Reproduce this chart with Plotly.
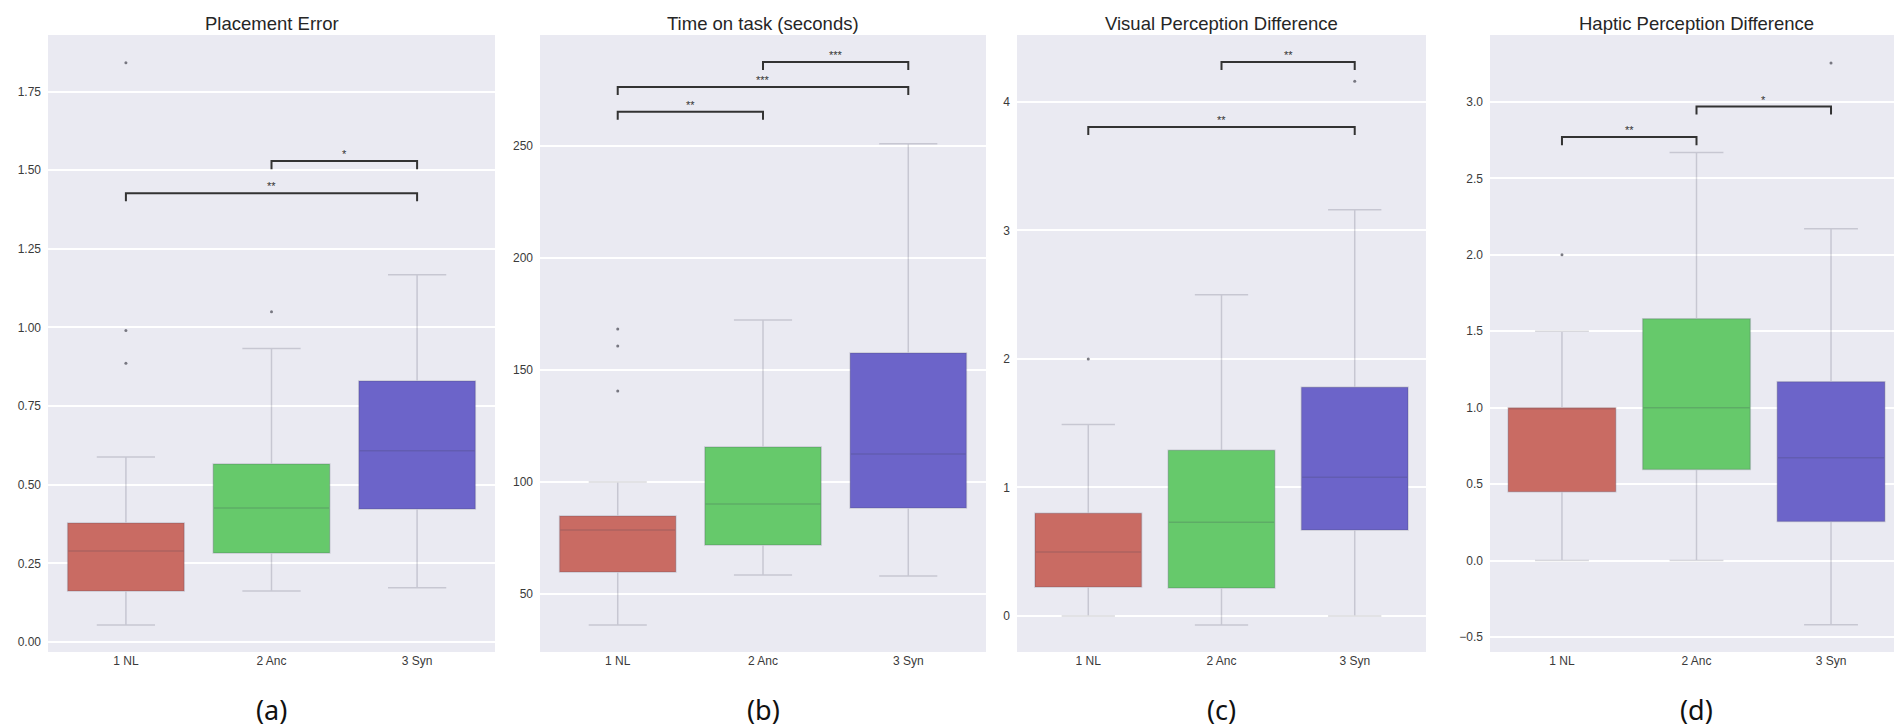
import plotly.graph_objects as go

# Gruppen / Farben
categories = ["1 NL", "2 Anc", "3 Syn"]
box_colors = ["rgb(201,107,99)", "rgb(102,201,107)", "rgb(108,100,201)"]

titles = ["Placement Error", "Time on task (seconds)",
          "Visual Perception Difference", "Haptic Perception Difference"]
panel_labels = ["(a)", "(b)", "(c)", "(d)"]

# Placement Error
placement_q1 = [0.162, 0.283, 0.423]
placement_med = [0.289, 0.426, 0.608]
placement_q3 = [0.378, 0.566, 0.830]
placement_lo = [0.054, 0.162, 0.172]
placement_hi = [0.588, 0.933, 1.168]
placement_out = [[1.842, 0.990, 0.886], [1.050], []]
placement_sig = [(0, 2, 1.427, "**"), (1, 2, 1.529, "*")]

# Time on task
time_q1 = [59.8, 71.9, 88.4]
time_med = [78.6, 90.2, 112.5]
time_q3 = [84.8, 115.6, 157.6]
time_lo = [36.2, 58.5, 58.0]
time_hi = [100.0, 172.3, 251.0]
time_out = [[168.3, 160.7, 140.6], [], []]
time_sig = [(0, 1, 265.2, "**"), (0, 2, 276.3, "***"), (1, 2, 287.5, "***")]

# Visual Perception Difference
visual_q1 = [0.226, 0.218, 0.670]
visual_med = [0.498, 0.730, 1.080]
visual_q3 = [0.800, 1.290, 1.780]
visual_lo = [0.0, -0.07, 0.0]
visual_hi = [1.49, 2.50, 3.16]
visual_out = [[2.0], [], [4.16]]
visual_sig = [(0, 2, 3.805, "**"), (1, 2, 4.31, "**")]

# Haptic Perception Difference
haptic_q1 = [0.451, 0.595, 0.255]
haptic_med = [1.0, 1.0, 0.673]
haptic_q3 = [1.0, 1.582, 1.170]
haptic_lo = [0.0, 0.0, -0.42]
haptic_hi = [1.5, 2.67, 2.17]
haptic_out = [[2.0], [], [3.255]]
haptic_sig = [(0, 1, 2.77, "**"), (1, 2, 2.97, "*")]

panels = [
    (placement_q1, placement_med, placement_q3, placement_lo, placement_hi, placement_out, placement_sig),
    (time_q1, time_med, time_q3, time_lo, time_hi, time_out, time_sig),
    (visual_q1, visual_med, visual_q3, visual_lo, visual_hi, visual_out, visual_sig),
    (haptic_q1, haptic_med, haptic_q3, haptic_lo, haptic_hi, haptic_out, haptic_sig),
]

# Achsen-Layout (Pixel -> Paper)
W, H = 1902, 728
x_px = [(40, 487), (532, 978), (1009, 1418), (1482, 1895)]
y_ranges = [[-0.032, 1.93], [24.1, 299.5], [-0.28, 4.52], [-0.598, 3.438]]
y_dticks = [0.25, 50, 1, 0.5]
y_formats = [".2f", "d", "d", ".1f"]
y_dom = [1 - 644 / H, 1 - 27 / H]

fig = go.Figure()
annotations = []
layout_axes = {}

for k, (q1, med, q3, lo, hi, out, sig) in enumerate(panels):
    xa = "x" if k == 0 else f"x{k+1}"
    ya = "y" if k == 0 else f"y{k+1}"
    for i, cat in enumerate(categories):
        fig.add_trace(go.Box(
            x=[cat], q1=[q1[i]], median=[med[i]], q3=[q3[i]],
            lowerfence=[lo[i]], upperfence=[hi[i]],
            fillcolor=box_colors[i], width=0.8,
            line=dict(color="rgba(60,60,85,0.2)", width=1.5),
            whiskerwidth=0.5, boxpoints=False,
            xaxis=xa, yaxis=ya, showlegend=False, hoverinfo="skip"
        ))
        if out[i]:
            fig.add_trace(go.Scatter(
                x=[cat] * len(out[i]), y=out[i], mode="markers",
                marker=dict(size=3, color="rgba(90,90,100,0.8)"),
                xaxis=xa, yaxis=ya, showlegend=False, hoverinfo="skip"
            ))
    # Signifikanz-Klammern
    span = y_ranges[k][1] - y_ranges[k][0]
    tip = span * 0.013
    for (a, b, h, label) in sig:
        fig.add_trace(go.Scatter(
            x=[categories[a], categories[a], categories[b], categories[b]],
            y=[h - tip, h, h, h - tip], mode="lines",
            line=dict(color="#333333", width=2),
            xaxis=xa, yaxis=ya, showlegend=False, hoverinfo="skip"
        ))
        annotations.append(dict(
            x=(a + b) / 2, y=h, xref=xa, yref=ya, text=label, showarrow=False,
            yanchor="bottom", yshift=-1,
            font=dict(family="Liberation Sans", size=11, color="#333333")
        ))

    x0, x1 = x_px[k][0] / W, x_px[k][1] / W
    layout_axes["xaxis" if k == 0 else f"xaxis{k+1}"] = dict(
        domain=[x0, x1], anchor=ya, type="category",
        range=[-0.535, 2.535], showgrid=False, zeroline=False,
        ticks="", tickfont=dict(family="Liberation Sans", size=12, color="#3a3a3a"),
        fixedrange=True
    )
    layout_axes["yaxis" if k == 0 else f"yaxis{k+1}"] = dict(
        domain=y_dom, anchor=xa, range=y_ranges[k], dtick=y_dticks[k],
        tickformat=y_formats[k], showgrid=True, gridcolor="white", gridwidth=1.5,
        zeroline=False, ticks="", ticklabelstandoff=6,
        tickfont=dict(family="Liberation Sans", size=12, color="#3a3a3a"),
        fixedrange=True
    )
    cx = (x0 + x1) / 2
    annotations.append(dict(
        x=cx, y=1 - 15 / H, xref="paper", yref="paper", text=titles[k],
        showarrow=False, xanchor="center", yanchor="middle",
        font=dict(family="Liberation Sans", size=18.5, color="#262626")
    ))
    annotations.append(dict(
        x=cx, y=1 - 701 / H, xref="paper", yref="paper", text=panel_labels[k],
        showarrow=False, xanchor="center", yanchor="middle",
        font=dict(family="Noto Sans", size=27, color="#111111")
    ))

fig.update_layout(
    width=W, height=H, autosize=False,
    margin=dict(l=0, r=0, t=0, b=0),
    paper_bgcolor="white", plot_bgcolor="#eaeaf2",
    boxmode="overlay", boxgap=0.2,
    annotations=annotations,
    **layout_axes
)

fig.write_html("out.html")
